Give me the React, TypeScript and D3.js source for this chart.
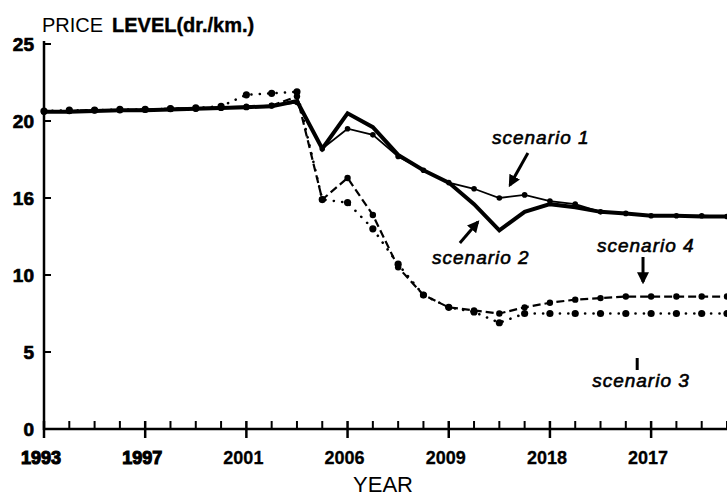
import React from "react";
import * as d3 from "d3";

const years = d3.range(1993, 2021);

const scenario1 = [20.65, 20.65, 20.7, 20.7, 20.75, 20.8, 20.85, 20.9, 20.95, 21.0, 21.2, 18.2, 19.5, 19.1, 17.7, 16.8, 16.0, 15.6, 15.0, 15.2, 14.8, 14.6, 14.1, 14.0, 13.85, 13.85, 13.85, 13.8];
const scenario2 = [20.6, 20.6, 20.65, 20.7, 20.7, 20.75, 20.8, 20.85, 20.9, 20.95, 21.3, 18.2, 20.5, 19.6, 17.8, 16.8, 16.0, 14.6, 12.9, 14.1, 14.6, 14.4, 14.1, 14.0, 13.85, 13.85, 13.8, 13.8];
const scenario4 = [20.6, 20.65, 20.7, 20.7, 20.75, 20.8, 20.8, 20.85, 20.9, 21.0, 21.6, 14.9, 16.3, 13.9, 10.5, 8.7, 7.9, 7.7, 7.5, 7.9, 8.2, 8.4, 8.5, 8.6, 8.6, 8.6, 8.6, 8.6];
const scenario3 = [20.65, 20.7, 20.7, 20.75, 20.75, 20.8, 20.85, 20.95, 21.7, 21.8, 21.9, 14.9, 14.7, 13.0, 10.7, 8.7, 7.9, 7.6, 6.9, 7.5, 7.5, 7.5, 7.5, 7.5, 7.5, 7.5, 7.5, 7.5];

const yTickValues = [0, 5, 10, 15, 20, 25];
const yTickLabels = ["0", "5", "10", "16", "20", "25"];
const xMajorYears = [1993, 1997, 2001, 2005, 2009, 2013, 2017];
const xMajorLabels = ["1993", "1997", "2001", "2006", "2009", "2018", "2017"];

// annotations in data coordinates: [label, textYear, textValue, arrowFromYear, arrowFromValue, arrowToYear, arrowToValue, head]
const annotations: [string, number, number, number, number, number, number, boolean][] = [
  ["scenario 1", 2012.64, 18.96, 2012.13, 17.92, 2011.42, 15.84, true],
  ["scenario 2", 2010.27, 11.17, 2009.44, 12.08, 2010.15, 13.44, true],
  ["scenario 4", 2016.79, 11.95, 2016.68, 11.17, 2016.68, 9.55, true],
  ["scenario 3", 2016.6, 3.18, 2016.45, 4.61, 2016.45, 3.83, false],
];

const W = 727;
const H = 497;

export default function App() {
  const x = d3.scaleLinear().domain([1993, 2020]).range([44, 727]);
  const y = d3.scaleLinear().domain([0, 25]).range([429, 44]);

  const line = d3
    .line<number>()
    .x((_, i) => x(years[i]))
    .y((d) => y(d));

  const font = "'Liberation Sans', Arial, sans-serif";
  const minorYears = d3.range(1993, 2021).filter((yr) => !xMajorYears.includes(yr));

  return (
    <svg width={W} height={H} style={{ position: "absolute", left: 0, top: 0, background: "#fff" }}>
      <defs>
        <marker id="ah" viewBox="0 0 10 10" refX="8" refY="5" markerWidth="4" markerHeight="4" orient="auto">
          <path d="M0,0 L10,5 L0,10 z" fill="#000" />
        </marker>
      </defs>
      <rect width={W} height={H} fill="#fff" />

      {/* title */}
      <text x={42} y={32} fontFamily={font} fontSize={20} fill="#000">
        PRICE
      </text>
      <text x={112} y={32} fontFamily={font} fontSize={20} fontWeight="bold" fill="#000" stroke="#000" strokeWidth={0.4}>
        LEVEL(dr./km.)
      </text>

      {/* y axis */}
      <line x1={44} x2={44} y1={y(25) - 3} y2={y(0) + 1} stroke="#000" strokeWidth={2.5} />
      {yTickValues.map((v, i) => (
        <g key={v}>
          <line x1={44} x2={51} y1={y(v)} y2={y(v)} stroke="#000" strokeWidth={2} />
          <text x={34} y={y(v)} dy="0.36em" textAnchor="end" fontFamily={font} fontSize={19} fontWeight="bold" fill="#000" stroke="#000" strokeWidth={0.7}>
            {yTickLabels[i]}
          </text>
        </g>
      ))}

      {/* x axis */}
      <line x1={44} x2={727} y1={y(0)} y2={y(0)} stroke="#000" strokeWidth={2.5} />
      {minorYears.map((yr) => (
        <line key={yr} x1={x(yr)} x2={x(yr)} y1={y(0) - 8} y2={y(0)} stroke="#000" strokeWidth={2} />
      ))}
      {xMajorYears.map((yr, i) => (
        <g key={yr}>
          <line x1={x(yr)} x2={x(yr)} y1={y(0) - 8} y2={y(0) + 9} stroke="#000" strokeWidth={2.5} />
          <text
            x={x(yr) - 3}
            y={464}
            textAnchor="middle"
            fontFamily={font}
            fontSize={18}
            fontWeight="bold"
            fill="#000"
            stroke="#000"
            strokeWidth={i < 2 ? 1.1 : 0.3}
          >
            {xMajorLabels[i]}
          </text>
        </g>
      ))}
      <text x={383} y={492} textAnchor="middle" fontFamily={font} fontSize={22} fill="#000">
        YEAR
      </text>

      {/* series */}
      <path d={line(scenario4) || ""} fill="none" stroke="#000" strokeWidth={2.2} strokeDasharray="8,4" />
      {scenario4.map((v, i) => (
        <circle key={"s4" + i} cx={x(years[i])} cy={y(v)} r={3.2} fill="#000" />
      ))}
      <path d={line(scenario3) || ""} fill="none" stroke="#000" strokeWidth={2.6} strokeDasharray="0.1,8.3" strokeLinecap="round" />
      {scenario3.map((v, i) => (
        <circle key={"s3" + i} cx={x(years[i])} cy={y(v)} r={3.6} fill="#000" />
      ))}
      <path d={line(scenario1) || ""} fill="none" stroke="#000" strokeWidth={1.8} />
      {scenario1.map((v, i) => (
        <circle key={"s1" + i} cx={x(years[i])} cy={y(v)} r={2.8} fill="#000" />
      ))}
      <path d={line(scenario2) || ""} fill="none" stroke="#000" strokeWidth={4} strokeLinejoin="miter" />

      {/* annotations */}
      {annotations.map(([label, tx, tv, fx, fv, ex, ev, head]) => (
        <g key={label}>
          <text
            x={x(tx)}
            y={y(tv)}
            dy="0.35em"
            textAnchor="middle"
            fontFamily={font}
            fontStyle="italic"
            fontSize={19}
            letterSpacing={1}
            fill="#000"
            stroke="#000"
            strokeWidth={0.6}
          >
            {label}
          </text>
          <line
            x1={x(fx)}
            y1={y(fv)}
            x2={x(ex)}
            y2={y(ev)}
            stroke="#000"
            strokeWidth={3}
            markerEnd={head ? "url(#ah)" : undefined}
          />
        </g>
      ))}
    </svg>
  );
}
